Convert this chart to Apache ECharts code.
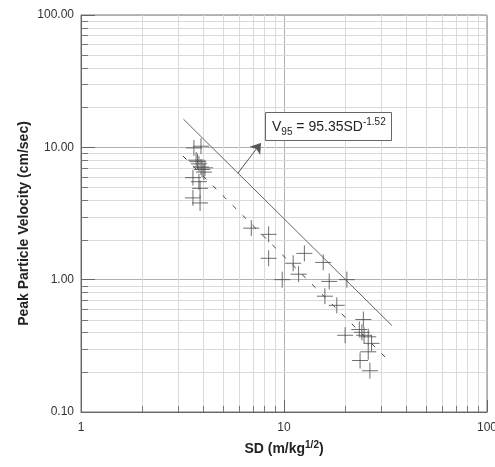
<!DOCTYPE html>
<html>
<head>
<meta charset="utf-8">
<script src="https://cdn.jsdelivr.net/npm/echarts@6/dist/echarts.min.js"></script>
<style>
html, body { margin: 0; padding: 0; background: #fff; }
#chart { width: 495px; height: 467px; }
</style>
</head>
<body>
<div id="chart"></div>
<script>
// scaled distance (m/kg^1/2) and peak particle velocity (cm/sec)
const sdValues = [
  3.60, 3.90, 3.69, 3.75, 3.81, 3.90, 4.08, 4.03, 3.95, 3.56, 3.81, 3.86, 3.56, 3.86,
  6.9, 8.4, 8.4, 9.8, 11.1, 11.8, 12.6, 15.6, 16.7, 20.4, 15.9, 18.2,
  20.0, 24.6, 23.5, 24.2, 24.8, 26.0, 27.0, 26.0, 23.7, 26.5
];
const ppvValues = [
  9.9, 10.2, 8.0, 7.8, 7.5, 7.1, 7.0, 6.5, 6.8, 5.9, 5.5, 4.9, 4.15, 3.8,
  2.45, 2.2, 1.45, 1.0, 1.33, 1.1, 1.58, 1.35, 0.97, 1.0, 0.75, 0.64,
  0.38, 0.50, 0.42, 0.40, 0.38, 0.37, 0.33, 0.285, 0.245, 0.205
];
// V95 = 95.35 SD^-1.52 (solid) and the mean line (dashed), end points
const fitSd = [3.2, 34];
const fitPpv = [16.3, 0.45];
const meanSd = [3.18, 33.3];
const meanPpv = [8.6, 0.239];
const arrowFrom = [5.93, 6.38];
const arrowTo = [7.7, 10.8];
// minor grid positions
const sdMinor = [2, 3, 4, 5, 6, 7, 8, 9, 20, 30, 40, 50, 60, 70, 80, 90];
const ppvMinor = [0.2, 0.3, 0.4, 0.5, 0.6, 0.7, 0.8, 0.9, 2, 3, 4, 5, 6, 7, 8, 9,
  20, 30, 40, 50, 60, 70, 80, 90];

const font = "Liberation Sans, Arial, sans-serif";
const chart = echarts.init(document.getElementById("chart"));

function vGrid(params, api) {
  const cs = params.coordSys;
  const x = Math.round(api.coord([api.value(0), 1])[0]) + 0.5;
  const yb = cs.y + cs.height;
  return {
    type: "group",
    children: [
      { type: "line", shape: { x1: x, y1: cs.y, x2: x, y2: yb }, style: { stroke: "#dadada", lineWidth: 1 } },
      { type: "line", shape: { x1: x, y1: yb, x2: x, y2: yb - 6 }, style: { stroke: "#777", lineWidth: 1 } },
    ],
  };
}
function hGrid(params, api) {
  const cs = params.coordSys;
  const y = Math.round(api.coord([1, api.value(1)])[1]) + 0.5;
  return {
    type: "group",
    children: [
      { type: "line", shape: { x1: cs.x, y1: y, x2: cs.x + cs.width, y2: y }, style: { stroke: "#dadada", lineWidth: 1 } },
      { type: "line", shape: { x1: cs.x, y1: y, x2: cs.x + 7, y2: y }, style: { stroke: "#777", lineWidth: 1 } },
    ],
  };
}

const option = {
  animation: false,
  backgroundColor: "#fff",
  grid: {
    left: 81, right: 8, top: 15, bottom: 55,
    outerBoundsMode: "none",
    show: true, borderColor: "#777", borderWidth: 1,
  },
  xAxis: {
    type: "log",
    logBase: 10,
    min: 1,
    max: 100,
    name: "SD (m/kg{sup|1/2})",
    nameLocation: "middle",
    nameGap: 28,
    nameTextStyle: {
      fontFamily: font, fontSize: 14, fontWeight: "bold", color: "#222", lineHeight: 18,
      rich: { sup: { fontFamily: font, fontSize: 10, fontWeight: "bold", color: "#222", verticalAlign: "top", lineHeight: 18 } },
    },
    axisLine: { lineStyle: { color: "#666" } },
    axisTick: { inside: true, length: 12, lineStyle: { color: "#666" } },
    axisLabel: { fontFamily: font, fontSize: 12, color: "#333", margin: 10 },
    splitLine: { show: true, lineStyle: { color: "#b0b0b0" } },
  },
  yAxis: {
    type: "log",
    logBase: 10,
    min: 0.1,
    max: 100,
    name: "Peak Particle Velocity (cm/sec)",
    nameLocation: "middle",
    nameGap: 50,
    nameMoveOverlap: false,
    nameTextStyle: { fontFamily: font, fontSize: 14, fontWeight: "bold", color: "#222", padding: [0, 20, 0, 0] },
    axisLine: { lineStyle: { color: "#666" } },
    axisTick: { inside: true, length: 14, lineStyle: { color: "#666" } },
    axisLabel: { fontFamily: font, fontSize: 12, color: "#333", margin: 7, formatter: (v) => v.toFixed(2) },
    splitLine: { show: true, lineStyle: { color: "#b0b0b0" } },
  },
  series: [
    { type: "custom", silent: true, z: 1, renderItem: vGrid, data: sdMinor.map((v) => [v, 1]) },
    { type: "custom", silent: true, z: 1, renderItem: hGrid, data: ppvMinor.map((v) => [1, v]) },
    {
      type: "line",
      silent: true,
      z: 3,
      symbol: "none",
      data: fitSd.map((v, i) => [v, fitPpv[i]]),
      lineStyle: { color: "#666", width: 1 },
      markLine: {
        silent: true,
        symbolSize: 10,
        label: { show: false },
        lineStyle: { color: "#555", width: 1, type: "solid" },
        data: [[{ coord: arrowFrom, symbol: "none" }, { coord: arrowTo, symbol: "arrow" }]],
      },
    },
    {
      type: "line",
      silent: true,
      z: 3,
      symbol: "none",
      data: meanSd.map((v, i) => [v, meanPpv[i]]),
      lineStyle: { color: "#444", width: 1, type: [5, 9] },
    },
    {
      type: "scatter",
      z: 4,
      symbol: "path://M0,8L16,8M8,0L8,16",
      symbolSize: 16,
      itemStyle: { color: "none", borderColor: "#4a4a4a", borderWidth: 1 },
      data: sdValues.map((v, i) => [v, ppvValues[i]]),
    },
  ],
};
chart.setOption(option);

// equation box sits on the arrow tip
const tip = chart.convertToPixel({ gridIndex: 0 }, arrowTo);
chart.setOption({
  graphic: [
    {
      type: "rect",
      z: 10,
      shape: { x: Math.round(tip[0]) + 4.5, y: Math.round(tip[1]) - 30.5, width: 126, height: 28 },
      style: { fill: "#fff", stroke: "#666", lineWidth: 1 },
    },
    {
      type: "text",
      z: 11,
      x: Math.round(tip[0]) + 11,
      y: Math.round(tip[1]) - 16,
      style: {
        text: "{v|V}{sub|95}{v| = 95.35SD}{sup|-1.52}",
        verticalAlign: "middle",
        rich: {
          v: { fontFamily: font, fontSize: 14, fill: "#222", lineHeight: 20 },
          sub: { fontFamily: font, fontSize: 10, fill: "#222", verticalAlign: "bottom", lineHeight: 20 },
          sup: { fontFamily: font, fontSize: 10, fill: "#222", verticalAlign: "top", lineHeight: 20 },
        },
      },
    },
  ],
});
</script>
</body>
</html>
